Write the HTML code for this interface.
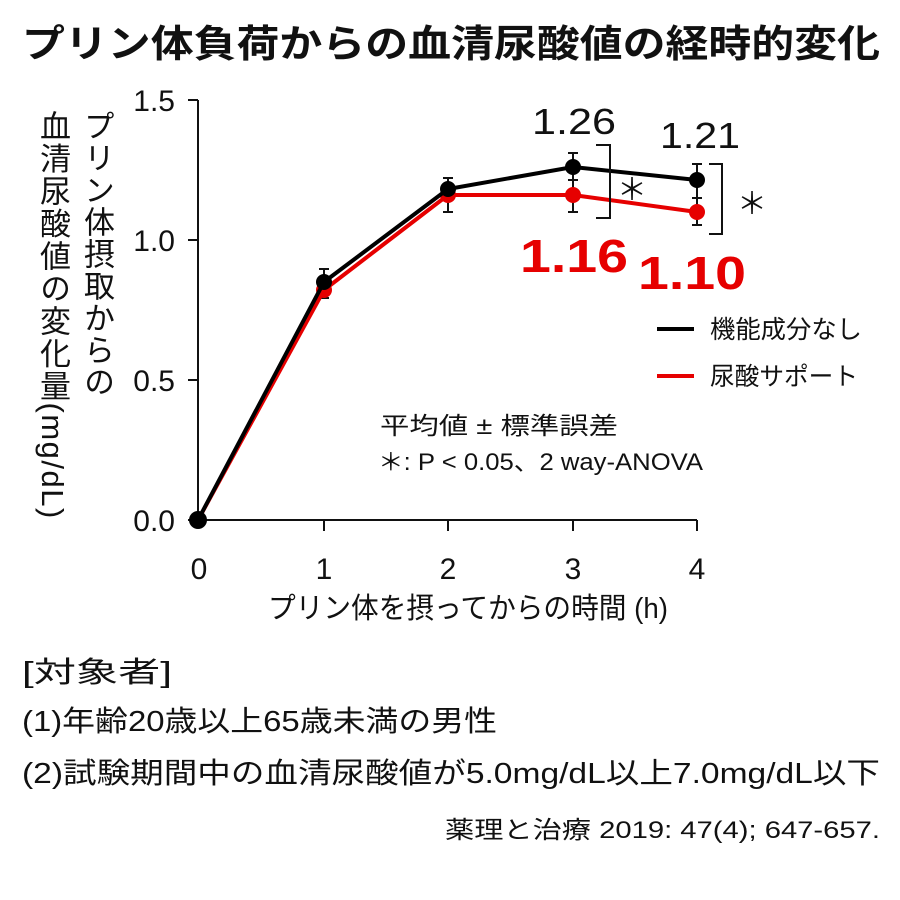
<!DOCTYPE html>
<html><head><meta charset="utf-8"><style>
body{margin:0;background:#fff;}
svg{display:block;font-family:"Liberation Sans","Noto Sans CJK JP",sans-serif;}
.v{position:absolute;writing-mode:vertical-rl;font-family:"Liberation Sans","Noto Sans CJK JP",sans-serif;font-size:31px;line-height:1;letter-spacing:1px;color:#111;}
</style></head><body>
<div style="position:relative;width:900px;height:900px;overflow:hidden">
<svg width="900" height="900" viewBox="0 0 900 900">
<text x="22" y="57" font-size="38" font-weight="bold" fill="#111" textLength="858" lengthAdjust="spacingAndGlyphs">プリン体負荷からの血清尿酸値の経時的変化</text>
<g stroke="#111" stroke-width="2" fill="none">
<line x1="198" y1="100" x2="198" y2="520"/>
<line x1="198" y1="520" x2="697" y2="520"/>
<line x1="188" y1="100" x2="198" y2="100"/>
<line x1="188" y1="240" x2="198" y2="240"/>
<line x1="188" y1="380" x2="198" y2="380"/>
<line x1="188" y1="520" x2="198" y2="520"/>
<line x1="324" y1="520" x2="324" y2="531"/>
<line x1="448" y1="520" x2="448" y2="531"/>
<line x1="573" y1="520" x2="573" y2="531"/>
<line x1="697" y1="520" x2="697" y2="531"/>
</g>
<g font-size="30" fill="#111" text-anchor="end">
<text x="175" y="111">1.5</text><text x="175" y="251">1.0</text><text x="175" y="391">0.5</text><text x="175" y="531">0.0</text>
</g>
<g font-size="30" fill="#111" text-anchor="middle">
<text x="199" y="579">0</text><text x="324" y="579">1</text><text x="448" y="579">2</text><text x="573" y="579">3</text><text x="697" y="579">4</text>
</g>
<text x="268" y="618" font-size="29" fill="#111" textLength="400" lengthAdjust="spacingAndGlyphs">プリン体を摂ってからの時間 (h)</text>
<g stroke="#111" stroke-width="2">
<line x1="324" y1="269" x2="324" y2="298"/><line x1="319" y1="269" x2="329" y2="269"/><line x1="319" y1="298" x2="329" y2="298"/>
<line x1="448" y1="178" x2="448" y2="212"/><line x1="443" y1="178" x2="453" y2="178"/><line x1="443" y1="212" x2="453" y2="212"/>
<line x1="573" y1="153" x2="573" y2="212"/><line x1="568" y1="153" x2="578" y2="153"/><line x1="568" y1="212" x2="578" y2="212"/><line x1="568" y1="180" x2="578" y2="180"/>
<line x1="697" y1="164" x2="697" y2="225"/><line x1="692" y1="164" x2="702" y2="164"/><line x1="692" y1="225" x2="702" y2="225"/><line x1="692" y1="198" x2="702" y2="198"/>
</g>
<polyline points="198,520 324,290 448,195 573,195 697,212" fill="none" stroke="#e60000" stroke-width="4"/>
<g fill="#e60000"><circle cx="324" cy="290" r="8"/><circle cx="448" cy="195" r="8"/><circle cx="573" cy="195" r="8"/><circle cx="697" cy="212" r="8"/></g>
<polyline points="198,520 324,282 448,189 573,167 697,180" fill="none" stroke="#000" stroke-width="4"/>
<g fill="#000"><circle cx="198" cy="520" r="9"/><circle cx="324" cy="282" r="8"/><circle cx="448" cy="189" r="8"/><circle cx="573" cy="167" r="8"/><circle cx="697" cy="180" r="8"/></g>
<g stroke="#111" stroke-width="2" fill="none">
<polyline points="596,145 610,145 610,218 596,218"/>
<polyline points="709,164 722,164 722,234 709,234"/>
</g>
<text x="632" y="200" text-anchor="middle" font-size="30" fill="#111" font-family="Noto Sans CJK JP">＊</text>
<text x="752" y="214" text-anchor="middle" font-size="30" fill="#111" font-family="Noto Sans CJK JP">＊</text>
<text x="532" y="134" font-size="36" fill="#111" textLength="84" lengthAdjust="spacingAndGlyphs">1.26</text>
<text x="660" y="148" font-size="36" fill="#111" textLength="80" lengthAdjust="spacingAndGlyphs">1.21</text>
<text x="520" y="272" font-size="46" font-weight="bold" fill="#e60000" textLength="108" lengthAdjust="spacingAndGlyphs">1.16</text>
<text x="638" y="289" font-size="46" font-weight="bold" fill="#e60000" textLength="108" lengthAdjust="spacingAndGlyphs">1.10</text>
<line x1="657" y1="329" x2="694" y2="329" stroke="#000" stroke-width="4"/>
<line x1="657" y1="376" x2="694" y2="376" stroke="#e60000" stroke-width="4"/>
<text x="710" y="338" font-size="25" fill="#111" textLength="152" lengthAdjust="spacingAndGlyphs">機能成分なし</text>
<text x="710" y="385" font-size="25" fill="#111" textLength="148" lengthAdjust="spacingAndGlyphs">尿酸サポート</text>
<text x="380" y="434" font-size="24" fill="#111" textLength="238" lengthAdjust="spacingAndGlyphs">平均値 ± 標準誤差</text>
<text x="378" y="470" font-size="24" fill="#111" textLength="325" lengthAdjust="spacingAndGlyphs">＊: P &lt; 0.05、2 way-ANOVA</text>
<g font-size="29" fill="#111">
<text x="22" y="682" textLength="150" lengthAdjust="spacingAndGlyphs">[対象者]</text>
<text x="22" y="731" textLength="475" lengthAdjust="spacingAndGlyphs">(1)年齢20歳以上65歳未満の男性</text>
<text x="22" y="783" textLength="858" lengthAdjust="spacingAndGlyphs">(2)試験期間中の血清尿酸値が5.0mg/dL以上7.0mg/dL以下</text>
</g>
<text x="445" y="838" font-size="24" fill="#111" textLength="435" lengthAdjust="spacingAndGlyphs">薬理と治療 2019: 47(4); 647-657.</text>
</svg>
<div class="v" style="left:81px;top:110px;">プリン体摂取からの</div>
<div class="v" style="left:37px;top:110px;letter-spacing:1.5px">血清尿酸値の変化量(mg/dL)</div>
</div>
</body></html>
